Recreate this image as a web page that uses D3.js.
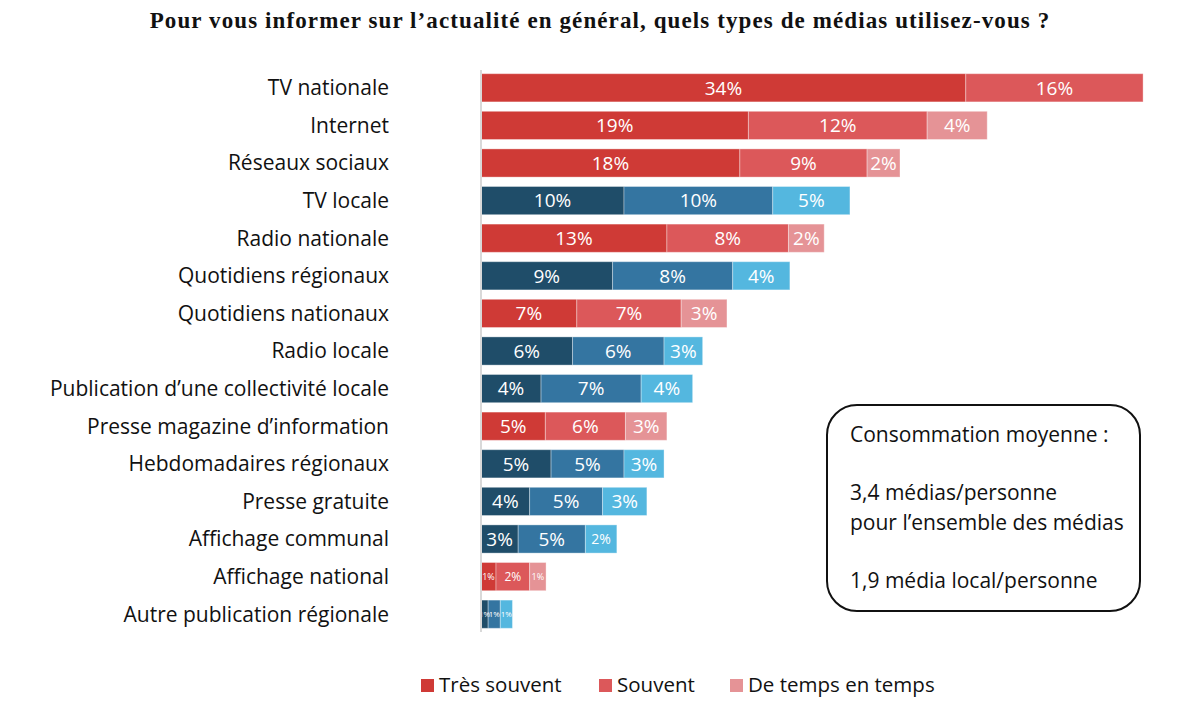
<!DOCTYPE html>
<html>
<head>
<meta charset="utf-8">
<script src="https://cdn.jsdelivr.net/npm/d3@7"></script>
<style>
  body { margin: 0; background: #fff; }
  svg { display: block; }
</style>
</head>
<body>
<div id="vis"></div>
<script>
// Data
const medias = ['TV nationale', 'Internet', 'Réseaux sociaux', 'TV locale', 'Radio nationale',
    'Quotidiens régionaux', 'Quotidiens nationaux', 'Radio locale', 'Publication d’une collectivité locale',
    'Presse magazine d’information', 'Hebdomadaires régionaux', 'Presse gratuite', 'Affichage communal',
    'Affichage national', 'Autre publication régionale'];
// local media are drawn in blue, the others in red
const isLocal = [false, false, false, true, false, true, false, true, true, false, true, true, true, false, true];
// bar lengths (estimated from the drawn bars)
const tresSouvent = [33.9, 18.7, 18.1, 10.0, 13.0, 9.2, 6.7, 6.4, 4.2, 4.5, 4.9, 3.4, 2.6, 1.05, 0.5];
const souvent = [12.4, 12.5, 8.9, 10.4, 8.5, 8.4, 7.3, 6.4, 7.0, 5.6, 5.1, 5.1, 4.7, 2.35, 0.85];
const deTemps = [0, 4.2, 2.3, 5.4, 2.5, 4.0, 3.2, 2.7, 3.6, 2.9, 2.8, 3.1, 2.2, 1.15, 0.85];
// printed labels
const tresSouventLbl = ['34%', '19%', '18%', '10%', '13%', '9%', '7%', '6%', '4%', '5%', '5%', '4%', '3%', '1%', '1%'];
const souventLbl = ['16%', '12%', '9%', '10%', '8%', '8%', '7%', '6%', '7%', '6%', '5%', '5%', '5%', '2%', '1%'];
const deTempsLbl = ['', '4%', '2%', '5%', '2%', '4%', '3%', '3%', '4%', '3%', '3%', '3%', '2%', '1%', '1%'];
const legendItems = ['Très souvent', 'Souvent', 'De temps en temps'];
const boxLines = ['Consommation moyenne :', '', '3,4 médias/personne', 'pour l’ensemble des médias', '', '1,9 média local/personne'];

const redColors = ['#cf3a36', '#dc585a', '#e59396'];
const blueColors = ['#1f4d69', '#3475a1', '#54b7df'];
const sans = 'Open Sans, sans-serif';

const W = 1200, H = 705;
const svg = d3.select('#vis').append('svg')
    .attr('width', W).attr('height', H);

// Title
svg.append('text')
    .attr('x', 600).attr('y', 28)
    .attr('text-anchor', 'middle')
    .style('font-family', 'Liberation Serif, serif')
    .style('font-weight', 'bold')
    .style('font-size', '23px')
    .style('letter-spacing', '1.1px')
    .style('fill', '#111')
    .text('Pour vous informer sur l’actualité en général, quels types de médias utilisez-vous ?');

const x0 = 481;
const xScale = d3.scaleLinear().domain([0, 10]).range([x0, x0 + 143]);
const yScale = d3.scaleBand().domain(medias).range([69, 633]).paddingInner(0.25).paddingOuter(0.125);

// Category labels
svg.append('g').selectAll('text')
    .data(medias)
    .join('text')
    .attr('x', 389)
    .attr('y', d => yScale(d) + yScale.bandwidth() / 2)
    .attr('dy', '0.35em')
    .attr('text-anchor', 'end')
    .style('font-family', sans)
    .style('font-size', '21px')
    .style('fill', '#111')
    .text(d => d);

// Build segments
const segs = [];
medias.forEach((m, i) => {
    const vals = [tresSouvent[i], souvent[i], deTemps[i]];
    const lbls = [tresSouventLbl[i], souventLbl[i], deTempsLbl[i]];
    const total = d3.sum(vals);
    let acc = 0;
    vals.forEach((v, k) => {
        if (v > 0) segs.push({ media: m, i, k, start: acc, end: acc + v, label: lbls[k], total });
        acc += v;
    });
});

const bars = svg.append('g');
bars.selectAll('rect')
    .data(segs)
    .join('rect')
    .attr('x', d => xScale(d.start))
    .attr('y', d => yScale(d.media))
    .attr('width', d => xScale(d.end) - xScale(d.start))
    .attr('height', yScale.bandwidth())
    .attr('fill', d => (isLocal[d.i] ? blueColors : redColors)[d.k])
    .attr('stroke', '#fff')
    .attr('stroke-opacity', 0.35)
    .attr('stroke-width', 1);

function labelSize(d) {
    const w = xScale(d.end) - xScale(d.start);
    const tw = xScale(d.total) - x0;
    if (tw < 40) return 8;
    if (tw < 70) return w < 20 ? 9 : 12;
    if (w < 32) return 14;
    return 19;
}

bars.selectAll('text')
    .data(segs)
    .join('text')
    .attr('x', d => (xScale(d.start) + xScale(d.end)) / 2)
    .attr('y', d => yScale(d.media) + yScale.bandwidth() / 2)
    .attr('dy', '0.36em')
    .attr('text-anchor', 'middle')
    .style('font-family', sans)
    .style('font-size', d => labelSize(d) + 'px')
    .style('fill', '#fff')
    .text(d => d.label);

// Axis line
svg.append('line')
    .attr('x1', x0).attr('x2', x0)
    .attr('y1', 70).attr('y2', 632)
    .attr('stroke', '#d9d9d9')
    .attr('stroke-width', 2);

// Legend
const legendX = [421, 599, 730];
const legend = svg.append('g');
legendItems.forEach((t, i) => {
    legend.append('rect')
        .attr('x', legendX[i]).attr('y', 679)
        .attr('width', 13).attr('height', 13)
        .attr('fill', redColors[i]);
    legend.append('text')
        .attr('x', legendX[i] + 18).attr('y', 692)
        .style('font-family', sans)
        .style('font-size', '20.5px')
        .style('fill', '#111')
        .text(t);
});

// Info box
const box = svg.append('g');
box.append('rect')
    .attr('x', 827).attr('y', 405)
    .attr('width', 313).attr('height', 206)
    .attr('rx', 30).attr('ry', 30)
    .attr('fill', '#fff')
    .attr('stroke', '#111')
    .attr('stroke-width', 2);
box.selectAll('text')
    .data(boxLines)
    .join('text')
    .attr('x', 850)
    .attr('y', (d, i) => 442 + i * 29.2)
    .style('font-family', sans)
    .style('font-size', '21px')
    .style('fill', '#111')
    .text(d => d);
</script>
</body>
</html>
